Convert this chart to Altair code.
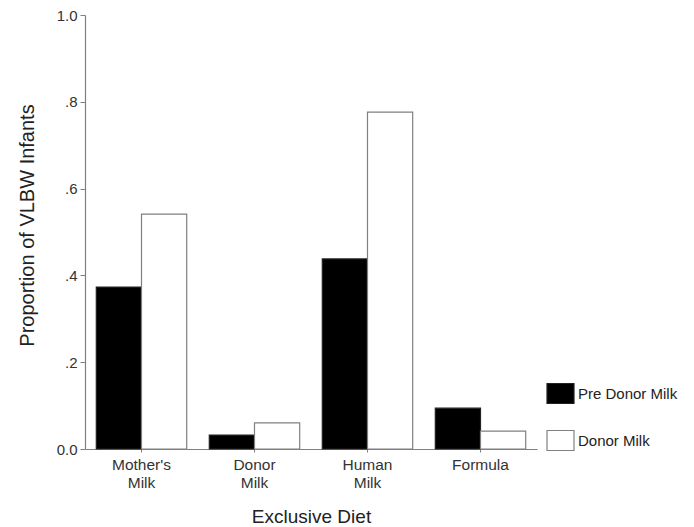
import altair as alt
import pandas as pd

categories = ["Mother's|Milk", "Donor|Milk", "Human|Milk", "Formula"]
series = ["Pre Donor Milk", "Donor Milk"]
pre_donor = [0.373, 0.032, 0.438, 0.094]
donor = [0.541, 0.060, 0.776, 0.041]
y_ticks = [0.0, 0.2, 0.4, 0.6, 0.8, 1.0]

rows = []
for c, a, b in zip(categories, pre_donor, donor):
    rows.append({"diet": c, "group": series[0], "value": a})
    rows.append({"diet": c, "group": series[1], "value": b})
df = pd.DataFrame(rows)

font = "Liberation Sans"

chart = alt.Chart(df).mark_bar(strokeWidth=1.2).encode(
    x=alt.X("diet:N", sort=categories,
            scale=alt.Scale(paddingInner=0.2, paddingOuter=0.1),
            axis=alt.Axis(title="Exclusive Diet", labelAngle=0,
                          labelExpr="split(datum.label, '|')",
                          labelLineHeight=18, labelFontSize=15.5,
                          labelPadding=5, tickSize=3, titleFontSize=19,
                          titleY=73, titleBaseline="alphabetic")),
    xOffset=alt.XOffset("group:N", sort=series),
    y=alt.Y("value:Q", scale=alt.Scale(domain=[0, 1], nice=False),
            axis=alt.Axis(title="Proportion of VLBW Infants", values=y_ticks,
                          labelExpr="datum.value == 0 ? '0.0' : datum.value == 1 ? '1.0' : replace(format(datum.value, '.1f'), '0.', '.')",
                          labelFontSize=15, tickSize=5, labelPadding=3,
                          grid=False, titleFontSize=20,
                          titleX=-48, titleY=210, titleBaseline="bottom")),
    color=alt.Color("group:N", sort=series,
                    scale=alt.Scale(domain=series, range=["#000000", "#ffffff"]),
                    legend=alt.Legend(title=None, orient="none", legendX=461, legendY=364,
                                      symbolType="M-1,-0.74H1V0.74H-1Z", symbolSize=729,
                                      symbolStrokeWidth=1.2, labelFontSize=15,
                                      labelOffset=3, rowPadding=20)),
    stroke=alt.Stroke("group:N", sort=series,
                      scale=alt.Scale(domain=series, range=["#222222", "#808080"]),
                      legend=None),
).properties(
    width=452, height=434,
    autosize=alt.AutoSizeParams(type="none"),
    padding={"left": 77, "top": 7, "right": 149, "bottom": 76},
).configure_view(stroke=None).configure_axis(
    domainColor="#808080", tickColor="#808080", labelColor="#333333",
    titleColor="#222222", titleFontWeight="normal", labelFont=font, titleFont=font,
    domainWidth=1.2,
).configure_legend(labelFont=font, labelColor="#222222", symbolStrokeColor="#555555")

chart.save("out.html", embed_options={"renderer": "svg", "actions": False})
